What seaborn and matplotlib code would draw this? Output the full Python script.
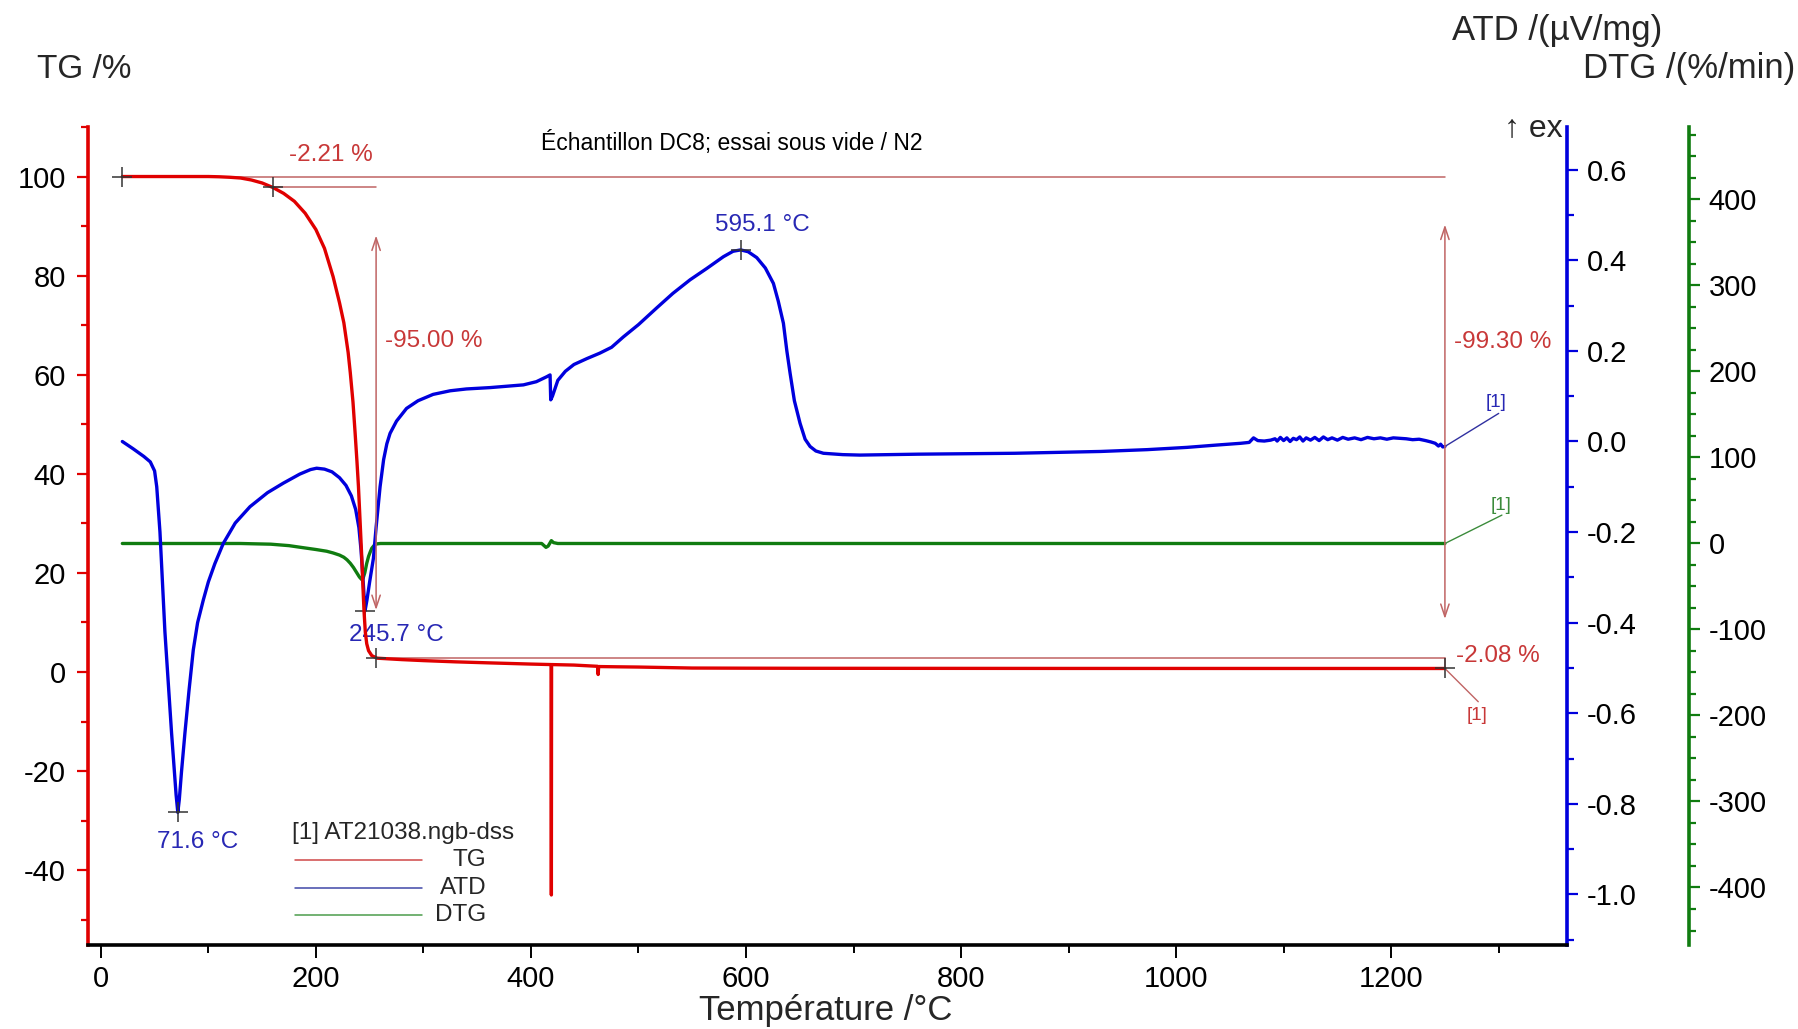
import numpy as np
import pandas as pd
import matplotlib
matplotlib.use("Agg")
import matplotlib.pyplot as plt
import seaborn as sns
from matplotlib.ticker import MultipleLocator, FormatStrFormatter

# -----------------------------
# DATA
# -----------------------------
tg_temp = [20, 60, 100, 110, 120, 130, 140, 150, 160, 170, 180, 190, 200, 208, 216, 222,
           226, 230, 232, 234.5, 236.5, 238.2, 239.6, 241.2, 242.7, 243.8, 244.8, 246,
           247.3, 249, 252, 257, 280, 300, 330, 360, 400, 418.8, 419, 419.2, 440, 462,
           462.5, 463, 480, 500, 525, 550, 600, 650, 900, 1250]
tg_val = [100, 100, 100, 99.95, 99.85, 99.7, 99.3, 98.7, 97.79, 96.6, 95.0, 92.6, 89.3,
          85.5, 79.8, 74.5, 70.5, 64.5, 60.4, 54.5, 48.2, 42.5, 37.4, 30.0, 23.0, 17.0,
          12.2, 8.0, 5.7, 4.3, 3.3, 2.79, 2.5, 2.3, 2.05, 1.85, 1.6, 1.5, -45, 1.5, 1.4,
          1.15, -0.5, 1.1, 1.05, 1.0, 0.9, 0.8, 0.77, 0.75, 0.72, 0.71]

atd_temp = [20, 30, 40, 46, 50, 52, 55, 59.6, 65.8, 70, 71.6, 73, 75, 78.2, 82, 86, 90,
            95.3, 100, 106, 113.9, 125, 138.7, 155, 169.7, 185, 195, 200.7, 208, 215,
            222, 228, 233, 237, 240, 242, 244, 245.7, 247.5, 250, 253.5, 256, 259.7, 263,
            266, 269, 275, 284.3, 295, 309, 325, 340, 362, 393, 405, 414.7, 417.8, 418.4,
            420, 425, 432, 440, 452, 464, 475, 486, 500, 517, 532, 548, 563.5, 579, 588,
            595.1, 602, 610, 618, 625.5, 630, 634.8, 638, 641, 645, 650.3, 655, 659.6,
            665, 672, 690, 706, 760, 850, 930, 973, 1010, 1037, 1060, 1068, 1072, 1076,
            1082, 1088, 1092, 1094, 1097, 1100, 1103, 1106, 1109, 1112, 1115, 1118, 1121,
            1125, 1129, 1133, 1137, 1141, 1145, 1150, 1155, 1160, 1166, 1172, 1178, 1184,
            1190, 1196, 1202, 1208, 1214, 1220, 1226, 1232, 1237, 1241, 1244, 1246, 1248,
            1250]
atd_val = [0.0, -0.016, -0.033, -0.045, -0.065, -0.10, -0.20, -0.42, -0.644, -0.78,
           -0.819, -0.79, -0.73, -0.644, -0.55, -0.46, -0.40, -0.35, -0.31, -0.27, -0.225,
           -0.18, -0.144, -0.113, -0.092, -0.072, -0.062, -0.059, -0.061, -0.067, -0.08,
           -0.097, -0.12, -0.15, -0.19, -0.24, -0.31, -0.374, -0.35, -0.31, -0.258, -0.19,
           -0.100, -0.04, -0.005, 0.018, 0.045, 0.073, 0.090, 0.104, 0.112, 0.116, 0.119,
           0.125, 0.132, 0.143, 0.147, 0.092, 0.100, 0.135, 0.155, 0.170, 0.183, 0.195,
           0.208, 0.231, 0.258, 0.295, 0.327, 0.357, 0.382, 0.408, 0.420, 0.423, 0.419,
           0.406, 0.383, 0.349, 0.310, 0.261, 0.200, 0.151, 0.090, 0.040, 0.005, -0.011,
           -0.021, -0.026, -0.029, -0.030, -0.028, -0.026, -0.022, -0.018, -0.013, -0.008,
           -0.004, -0.002, 0.008, 0.002, 0.001, 0.003, 0.006, 0.001, 0.009, 0.002, 0.008,
           0.000, 0.007, 0.004, 0.010, 0.001, 0.008, 0.003, 0.009, 0.002, 0.010, 0.004,
           0.008, 0.003, 0.009, 0.005, 0.008, 0.004, 0.009, 0.006, 0.008, 0.005, 0.008,
           0.007, 0.006, 0.004, 0.005, 0.002, -0.001, -0.004, -0.010,
           -0.006, -0.012, -0.011]

dtg_temp = [20, 130, 140, 158, 175, 186, 200, 210, 216, 222, 226, 229, 232, 235, 238,
            240.5, 242.7, 244, 245.5, 247.3, 249, 250.5, 252, 254, 256.6, 260, 410, 414,
            416, 419, 421, 425, 800, 1250]
dtg_val = [0, 0, -0.3, -0.8, -2.5, -4.5, -7, -9, -11, -13.5, -16, -19, -23, -28, -34,
           -39, -42, -40, -34, -23, -15, -10, -5.5, -2.5, -0.5, 0, 0, -4.5, -3, 3.3, 1, 0,
           0, 0]

# TG steps (step start/end temperatures and levels)
step_temp = [20, 160, 256, 1250]
step_tg = [100, 97.79, 2.79, 0.71]
step_labels = ["-2.21 %", "-95.00 %", "-2.08 %", "-99.30 %"]

# peaks of the ATD curve
peak_temp = [71.6, 245.7, 595.1]
peak_atd = [-0.819, -0.374, 0.423]
peak_labels = ["71.6 °C", "245.7 °C", "595.1 °C"]

tg_df = pd.DataFrame({"T": tg_temp, "TG": tg_val})
atd_df = pd.DataFrame({"T": atd_temp, "ATD": atd_val})
dtg_df = pd.DataFrame({"T": dtg_temp, "DTG": dtg_val})

# -----------------------------
# STYLE
# -----------------------------
sns.set_style("white")
plt.rcParams['font.family'] = ['Liberation Sans', 'DejaVu Sans']
plt.rcParams['axes.unicode_minus'] = False

RED = "#e00000"
BLUE = "#0000dd"
GREEN = "#107c10"
ANN_RED = "#c83838"
ANN_LINE = "#c06464"
ANN_BLUE = "#2828b4"

fig = plt.figure(figsize=(17.98, 10.29), dpi=100)
ax = fig.add_axes([0.0489, 0.0821, 0.8229, 0.7945])
ax2 = ax.twinx()
ax3 = ax.twinx()
ax.set_zorder(3)
ax.patch.set_visible(False)
ax2.set_zorder(2)
ax3.set_zorder(1)

# -----------------------------
# CURVES
# -----------------------------
sns.lineplot(data=dtg_df, x="T", y="DTG", ax=ax3, color=GREEN, lw=2.4,
             sort=False, estimator=None)
sns.lineplot(data=atd_df, x="T", y="ATD", ax=ax2, color=BLUE, lw=2.4,
             sort=False, estimator=None)
sns.lineplot(data=tg_df, x="T", y="TG", ax=ax, color=RED, lw=2.4,
             sort=False, estimator=None)

# -----------------------------
# AXES
# -----------------------------
ax.set_xlim(-12, 1364)
ax.set_ylim(-55, 110)
ax2.set_ylim(-1.1106, 0.6944)
ax3.set_ylim(-466.3, 484.3)

for a in (ax, ax2, ax3):
    a.set_xlabel("")
    a.set_ylabel("")
    for s in a.spines.values():
        s.set_visible(False)

ax.spines["left"].set_visible(True)
ax.spines["left"].set_color(RED)
ax.spines["left"].set_linewidth(2.6)
ax.spines["bottom"].set_visible(True)
ax.spines["bottom"].set_color("black")
ax.spines["bottom"].set_linewidth(2.6)
ax2.spines["right"].set_visible(True)
ax2.spines["right"].set_color(BLUE)
ax2.spines["right"].set_linewidth(2.6)
ax3.spines["right"].set_visible(True)
ax3.spines["right"].set_position(("axes", 1.0821))
ax3.spines["right"].set_color(GREEN)
ax3.spines["right"].set_linewidth(2.6)

ax.xaxis.set_major_locator(MultipleLocator(200))
ax.xaxis.set_minor_locator(MultipleLocator(100))
ax.yaxis.set_major_locator(MultipleLocator(20))
ax.yaxis.set_minor_locator(MultipleLocator(10))
ax2.yaxis.set_major_locator(MultipleLocator(0.2))
ax2.yaxis.set_minor_locator(MultipleLocator(0.1))
ax2.yaxis.set_major_formatter(FormatStrFormatter("%.1f"))
ax3.yaxis.set_major_locator(MultipleLocator(100))
ax3.yaxis.set_minor_locator(MultipleLocator(25))

ax.tick_params(axis="x", which="both", bottom=True, top=False, direction="out",
               colors="black", labelsize=21, width=1.4, pad=6)
ax.tick_params(axis="x", which="major", length=9)
ax.tick_params(axis="x", which="minor", length=6)
ax.tick_params(axis="y", which="both", left=True, right=False, direction="out",
               color=RED, labelcolor="black", labelsize=21, width=1.6, pad=8)
ax.tick_params(axis="y", which="major", length=8)
ax.tick_params(axis="y", which="minor", length=5)
for a, c in ((ax2, BLUE), (ax3, GREEN)):
    a.tick_params(axis="y", which="both", right=True, left=False, direction="out",
                  color=c, labelcolor="black", labelsize=21, width=1.6, pad=6)
    a.tick_params(axis="y", which="major", length=8)
    a.tick_params(axis="y", which="minor", length=5)
ax2.tick_params(axis="x", which="both", bottom=False, top=False, labelbottom=False)
ax3.tick_params(axis="x", which="both", bottom=False, top=False, labelbottom=False)

# axis titles
fig.text(0.0205, 0.932, "TG /%", fontsize=24, ha="left", va="center")
fig.text(0.8658, 0.970, "ATD /(µV/mg)", fontsize=25, ha="center", va="center")
fig.text(0.9394, 0.933, "DTG /(%/min)", fontsize=25, ha="center", va="center")
fig.text(0.4592, 0.0175, "Température /°C", fontsize=25, ha="center", va="center")
fig.text(0.8693, 0.8756, "↑ ex", fontsize=23, ha="right", va="center")

ax.text(586.7, 106.7, "Échantillon DC8; essai sous vide / N2", fontsize=16.5,
        ha="center", va="center", color="black")

# -----------------------------
# TG STEP ANNOTATIONS
# -----------------------------
lk = dict(color=ANN_LINE, lw=1.1, zorder=1)
ax.plot([step_temp[0], step_temp[3]], [step_tg[0], step_tg[0]], **lk)
ax.plot([step_temp[1], step_temp[2]], [step_tg[1], step_tg[1]], **lk)
ax.plot([step_temp[2], step_temp[3]], [step_tg[2], step_tg[2]], **lk)
ax.plot([step_temp[3], step_temp[3]], [step_tg[2], step_tg[3]], **lk)

arrow = dict(arrowstyle="<->,head_length=0.9,head_width=0.3", color=ANN_LINE, lw=1.1,
             shrinkA=0, shrinkB=0)
ax.annotate("", xy=(step_temp[2], 12.5), xytext=(step_temp[2], 88.1), arrowprops=arrow)
ax.annotate("", xy=(step_temp[3], 10.7), xytext=(step_temp[3], 90.3), arrowprops=arrow)

ax.text(214.4, 104.4, step_labels[0], color=ANN_RED, fontsize=17.5, ha="center", va="center")
ax.text(264.5, 66.9, step_labels[1], color=ANN_RED, fontsize=17.5, ha="left", va="center")
ax.text(1299, 3.3, step_labels[2], color=ANN_RED, fontsize=17.5, ha="center", va="center")
ax.text(1303.5, 66.7, step_labels[3], color=ANN_RED, fontsize=17.5, ha="center", va="center")

ax.plot(step_temp, step_tg, ls="none", marker="+", ms=15, mew=1.1, color="#333333", zorder=5)

# curve tags [1]
ax.plot([1250, 1281], [step_tg[3], -6.0], color=ANN_LINE, lw=1.0)
ax.text(1280, -8.7, "[1]", color=ANN_RED, fontsize=13.5, ha="center", va="center")
ax2.plot([1250, 1300], [-0.011, 0.062], color="#3030a0", lw=1.0)
ax2.text(1298, 0.085, "[1]", color=ANN_BLUE, fontsize=13.5, ha="center", va="center")
ax3.plot([1250, 1303], [0, 33], color="#3c8c3c", lw=1.0)
ax3.text(1302, 44, "[1]", color="#3c8c3c", fontsize=13.5, ha="center", va="center")

# -----------------------------
# ATD PEAKS
# -----------------------------
ax2.plot(peak_temp, peak_atd, ls="none", marker="+", ms=15, mew=1.1, color="#333333", zorder=5)
ax2.text(90, -0.884, peak_labels[0], color=ANN_BLUE, fontsize=17.5, ha="center", va="center")
ax2.text(274.7, -0.428, peak_labels[1], color=ANN_BLUE, fontsize=17.5, ha="center", va="center")
ax2.text(615.5, 0.478, peak_labels[2], color=ANN_BLUE, fontsize=17.5, ha="center", va="center")

# -----------------------------
# LEGEND BLOCK
# -----------------------------
ax.text(0.138, 0.137, "[1] AT21038.ngb-dss", transform=ax.transAxes, fontsize=17.5,
        ha="left", va="center")
leg_names = ["TG", "ATD", "DTG"]
leg_colors = ["#d04848", "#4048a8", "#4c9c4c"]
leg_y = [0.1034, 0.0697, 0.0361]
for name, c, yy in zip(leg_names, leg_colors, leg_y):
    ax.plot([0.1397, 0.2258], [yy, yy], transform=ax.transAxes, color=c, lw=1.1)
    ax.text(0.2692, yy, name, transform=ax.transAxes, fontsize=17.5, ha="right", va="center")

fig.savefig("out.png", dpi=100)
